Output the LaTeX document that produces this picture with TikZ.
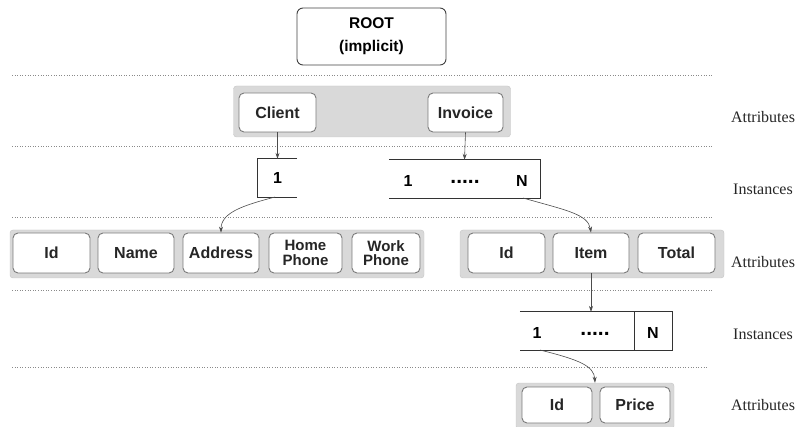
\documentclass[tikz,border=0pt]{standalone}
\usepackage{fontspec}
\newfontfamily\hv{Liberation Sans}
\newfontfamily\tm{Liberation Serif}
\usetikzlibrary{arrows.meta}
\definecolor{bandfill}{HTML}{D9D9D9}
\definecolor{bandline}{HTML}{C4C4C4}
\definecolor{boxline}{HTML}{7A7A7A}
\definecolor{sepcol}{HTML}{8A8A8A}
\tikzset{
  band/.style={fill=bandfill, draw=bandline, rounded corners=3pt, inner sep=0pt},
  attr/.style={fill=white, draw=boxline, line width=0.9pt, rounded corners=5pt, inner sep=0pt,
    font=\hv\bfseries\fontsize{16}{14}\selectfont, text=black!85, align=center},
  twoline/.style={font=\hv\bfseries\fontsize{15}{14.5}\selectfont},
  sepstyle/.style={draw=sepcol, line width=0.6pt, dotted},
  lbl/.style={font=\tm\fontsize{16}{18}\selectfont, text=black!85, inner sep=0pt},
  inst/.style={inner sep=0pt, font=\hv\bfseries\fontsize{16}{18}\selectfont},
  dots/.style={inner sep=0pt, font=\hv\bfseries\fontsize{21}{21}\selectfont},
  instline/.style={draw=black!80, line width=0.8pt},
  arr/.style={draw=black!70, line width=0.6pt, -{Stealth[length=6pt,width=4pt]}}
}
\begin{document}
\begin{tikzpicture}[x=1pt,y=-1pt]
\useasboundingbox (0,0) rectangle (805,427);

% separators
\coordinate (s1a) at (12,75);  \coordinate (s1b) at (713,75);
\coordinate (s2a) at (12,146); \coordinate (s2b) at (712,146);
\coordinate (s3a) at (12,217); \coordinate (s3b) at (712,217);
\coordinate (s4a) at (12,290); \coordinate (s4b) at (712,290);
\coordinate (s5a) at (12,367); \coordinate (s5b) at (707,367);
\foreach \a/\b in {s1a/s1b,s2a/s2b,s3a/s3b,s4a/s4b,s5a/s5b}
  \draw[sepstyle] (\a) -- (\b);

% root
\node[draw=black!75, line width=0.9pt, rounded corners=6pt, minimum width=149pt, minimum height=57pt,
  align=center, font=\hv\bfseries\fontsize{15.5}{23}\selectfont, inner sep=0pt] (root) at (371.5,36.5) {ROOT\\(implicit)};

% band 1
\node[band, minimum width=277pt, minimum height=51pt] (band1) at (372,111.5) {};
\node[attr, minimum width=77pt, minimum height=39pt] (client) at (277.5,112.5) {Client};
\node[attr, minimum width=75pt, minimum height=39pt] (invoice) at (465.5,112.5) {Invoice};

% instances 1
\node[inst, minimum width=39pt, minimum height=38pt] (c1) at (277.5,178) {1};
\draw[instline] (c1.north east) -- (c1.north west) -- (c1.south west) -- (c1.south east);
\node[inst, minimum width=151pt, minimum height=38pt] (inv1) at (464.5,179) {};
\draw[instline] (inv1.north west) -- (inv1.north east) -- (inv1.south east) -- (inv1.south west);
\node[inst] (inv1a) at (408,181) {1};
\node[dots] (inv1b) at (465,182) {.....};
\node[inst] (inv1c) at (522,181) {N};

% band 2 left
\node[band, minimum width=414pt, minimum height=48pt] (band2) at (217,254) {};
\node[attr, minimum width=77pt, minimum height=40pt] (id1) at (51.5,253) {Id};
\node[attr, minimum width=76pt, minimum height=40pt] (name) at (136,253) {Name};
\node[attr, minimum width=76pt, minimum height=40pt] (addr) at (221,253) {Address};
\node[attr, twoline, minimum width=73pt, minimum height=40pt] (home) at (305.5,253) {Home\\Phone};
\node[attr, twoline, minimum width=68pt, minimum height=40pt] (work) at (386,253) {Work\\Phone};

% band 2 right
\node[band, minimum width=264pt, minimum height=48pt] (band3) at (592,254) {};
\node[attr, minimum width=77pt, minimum height=40pt] (id2) at (506.5,253) {Id};
\node[attr, minimum width=76pt, minimum height=40pt] (item) at (591,253) {Item};
\node[attr, minimum width=77pt, minimum height=40pt] (total) at (676.5,253) {Total};

% instances 2
\node[inst, minimum width=152pt, minimum height=38pt] (it1) at (596,331) {};
\draw[instline] (it1.north west) -- (it1.north east) -- (it1.south east) -- (it1.south west);
\coordinate (divt) at (634,312); \coordinate (divb) at (634,350);
\draw[instline] (divt) -- (divb);
\node[inst] (it1a) at (537,333) {1};
\node[dots] (it1b) at (595,334) {.....};
\node[inst] (it1c) at (653,333) {N};

% band 3
\node[band, minimum width=158pt, minimum height=46pt] (band4) at (595,406) {};
\node[attr, minimum width=70pt, minimum height=36pt] (id3) at (557,405) {Id};
\node[attr, minimum width=70pt, minimum height=36pt] (price) at (635,405) {Price};

% labels
\node[lbl] (l1) at (763,117) {Attributes};
\node[lbl] (l2) at (763,189) {Instances};
\node[lbl] (l3) at (763,262) {Attributes};
\node[lbl] (l4) at (763,334) {Instances};
\node[lbl] (l5) at (763,405) {Attributes};

% connectors
\draw[arr] (client.south) -- (c1.north);
\draw[arr] (invoice.south) -- (inv1.north);
\coordinate (c1s) at (275,197);
\draw[arr] (c1s) .. controls (245,205) and (221,212) .. (addr.north);
\coordinate (inv1s) at (523,198);
\draw[arr] (inv1s) .. controls (565,210) and (588,214) .. (item.north);
\draw[arr] (item.south) -- (it1.north -| item.south);
\coordinate (it1s) at (540,350);
\draw[arr] (it1s) .. controls (580,360) and (594,366) .. (band4.north);
\end{tikzpicture}
\end{document}
